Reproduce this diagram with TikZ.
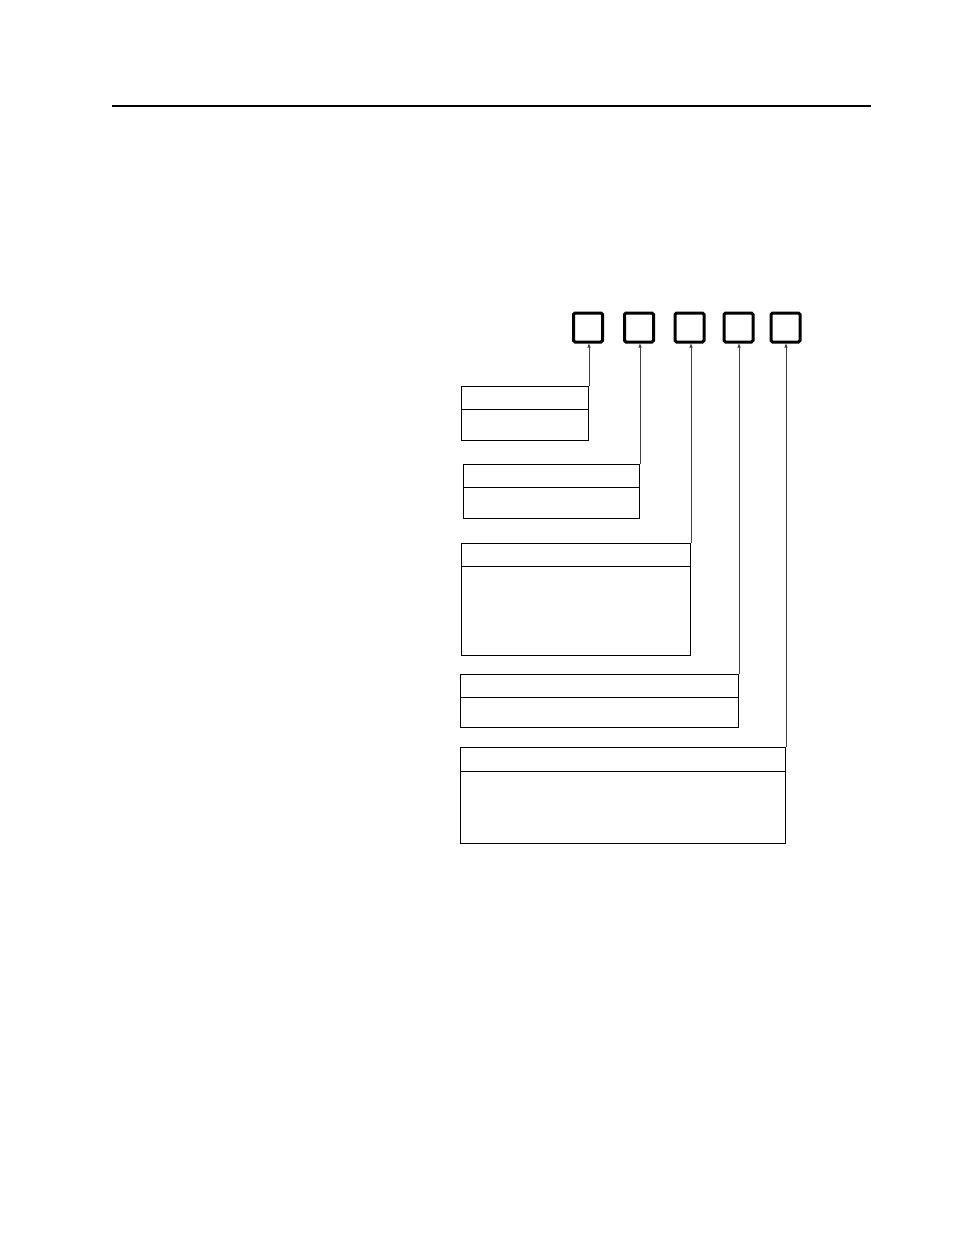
\documentclass[tikz,border=0pt]{standalone}
\usetikzlibrary{arrows.meta}
\begin{document}
\begin{tikzpicture}[x=1pt,y=-1pt,
  sq/.style={draw, line width=3pt, rounded corners=1.5pt, minimum size=29pt, inner sep=0pt},
  fbox/.style={draw, line width=1pt, anchor=north west, inner sep=0pt},
  divider/.style={line width=1pt},
  conn/.style={draw=black!75, line width=0.8pt, -{Triangle[length=4pt,width=3pt,fill=black!60]}},
  rule/.style={line width=2pt}]
\useasboundingbox (0,0) rectangle (954,1235);
\coordinate (r1) at (112,106);
\coordinate (r2) at (871,106);
\draw[rule] (r1) -- (r2);
% squares
\node[sq] (s1) at (588,327.5) {};
\node[sq] (s2) at (639,327.5) {};
\node[sq] (s3) at (689.5,327.5) {};
\node[sq] (s4) at (738.5,327.5) {};
\node[sq] (s5) at (785.5,327.5) {};
% boxes
\node[fbox, minimum width=127pt, minimum height=54pt] (b1) at (461,386) {};
\node[fbox, minimum width=176pt, minimum height=54pt] (b2) at (463,463.5) {};
\node[fbox, minimum width=229pt, minimum height=112pt] (b3) at (461,543) {};
\node[fbox, minimum width=278pt, minimum height=53pt] (b4) at (460,674) {};
\node[fbox, minimum width=325pt, minimum height=96pt] (b5) at (460,746.5) {};
% dividers
\draw[divider] ([yshift=-23.5pt]b1.north west) -- ([yshift=-23.5pt]b1.north east);
\draw[divider] ([yshift=-24pt]b2.north west) -- ([yshift=-24pt]b2.north east);
\draw[divider] ([yshift=-23.5pt]b3.north west) -- ([yshift=-23.5pt]b3.north east);
\draw[divider] ([yshift=-23.5pt]b4.north west) -- ([yshift=-23.5pt]b4.north east);
\draw[divider] ([yshift=-25pt]b5.north west) -- ([yshift=-25pt]b5.north east);
% connectors
\draw[conn] (b1.north east) -- (b1.north east |- s1.south);
\draw[conn] (b2.north east) -- (b2.north east |- s2.south);
\draw[conn] (b3.north east) -- (b3.north east |- s3.south);
\draw[conn] (b4.north east) -- (b4.north east |- s4.south);
\draw[conn] (b5.north east) -- (b5.north east |- s5.south);
\end{tikzpicture}
\end{document}
